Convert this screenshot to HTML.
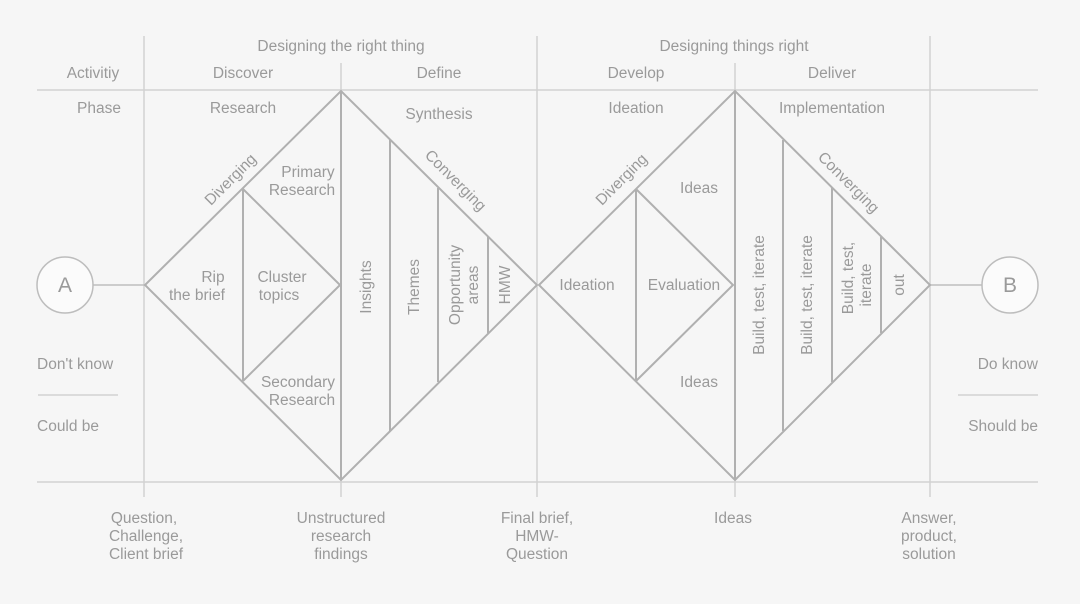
<!DOCTYPE html>
<html><head><style>
html,body{margin:0;padding:0;background:#f6f6f6;}
svg{display:block}
text{font-family:"Liberation Sans",sans-serif;font-size:15.5px;fill:#9a9a9a;}
</style></head><body>
<svg width="1080" height="604" viewBox="0 0 1080 604">
<rect width="1080" height="604" fill="#f6f6f6"/>
<g stroke="#d2d2d2" stroke-width="1.5" fill="none">
<line x1="37" y1="90" x2="1038" y2="90"/>
<line x1="37" y1="482" x2="1038" y2="482"/>
<line x1="144" y1="36" x2="144" y2="497"/>
<line x1="537" y1="36" x2="537" y2="497"/>
<line x1="930" y1="36" x2="930" y2="497"/>
<line x1="341" y1="63" x2="341" y2="497"/>
<line x1="735" y1="63" x2="735" y2="497"/>
<line x1="38" y1="395" x2="118" y2="395"/>
<line x1="958" y1="395" x2="1038" y2="395"/>
</g>
<g stroke="#bdbdbd" stroke-width="1.5" fill="none">
<circle cx="65" cy="285" r="28" fill="#fbfbfb"/>
<circle cx="1010" cy="285" r="28" fill="#fbfbfb"/>
<line x1="93" y1="285" x2="145" y2="285"/>
<line x1="930" y1="285" x2="982" y2="285"/>
</g>
<g stroke="#b0b0b0" stroke-width="2" fill="none">
<polygon points="145,285 341,91 537,285 341,480"/>
<line x1="243" y1="189" x2="243" y2="381"/>
<polyline points="243,189 340,285 243,381"/>
<line x1="341" y1="91" x2="341" y2="480"/>
<line x1="390" y1="140" x2="390" y2="431"/>
<line x1="438" y1="188" x2="438" y2="382"/>
<line x1="488" y1="237" x2="488" y2="333"/>
<polygon points="539,285 735,91 930,285 735,480"/>
<line x1="636" y1="189" x2="636" y2="381"/>
<polyline points="636,189 733,285 636,381"/>
<line x1="735" y1="91" x2="735" y2="480"/>
<line x1="783" y1="140" x2="783" y2="431"/>
<line x1="832" y1="188" x2="832" y2="382"/>
<line x1="881" y1="237" x2="881" y2="333"/>
</g>
<g text-anchor="middle">
<text x="341" y="51">Designing the right thing</text>
<text x="734" y="51">Designing things right</text>
<text x="93" y="78">Activitiy</text>
<text x="243" y="78">Discover</text>
<text x="439" y="78">Define</text>
<text x="636" y="78">Develop</text>
<text x="832" y="78">Deliver</text>
<text x="99" y="113">Phase</text>
<text x="243" y="113">Research</text>
<text x="439" y="119">Synthesis</text>
<text x="636" y="113">Ideation</text>
<text x="832" y="113">Implementation</text>
<text x="65" y="292" style="font-size:21px">A</text>
<text x="1010" y="292" style="font-size:21px">B</text>
<text x="308" y="177">Primary</text>
<text x="302" y="195">Research</text>
<text x="213" y="282">Rip</text>
<text x="197" y="300">the brief</text>
<text x="282" y="282">Cluster</text>
<text x="279" y="300">topics</text>
<text x="298" y="387">Secondary</text>
<text x="302" y="405">Research</text>
<text x="699" y="193">Ideas</text>
<text x="587" y="290">Ideation</text>
<text x="684" y="290">Evaluation</text>
<text x="699" y="387">Ideas</text>
<text x="144" y="523">Question,</text>
<text x="146" y="541">Challenge,</text>
<text x="146" y="559">Client brief</text>
<text x="341" y="523">Unstructured</text>
<text x="341" y="541">research</text>
<text x="341" y="559">findings</text>
<text x="537" y="523">Final brief,</text>
<text x="537" y="541">HMW-</text>
<text x="537" y="559">Question</text>
<text x="733" y="523">Ideas</text>
<text x="929" y="523">Answer,</text>
<text x="929" y="541">product,</text>
<text x="929" y="559">solution</text>
</g>
<text x="37" y="369">Don't know</text>
<text x="37" y="431">Could be</text>
<text x="1038" y="369" text-anchor="end">Do know</text>
<text x="1038" y="431" text-anchor="end">Should be</text>
<g text-anchor="middle">
<text transform="translate(234,183) rotate(-45)">Diverging</text>
<text transform="translate(625,183) rotate(-45)">Diverging</text>
<text transform="translate(452,184) rotate(45)">Converging</text>
<text transform="translate(845,186) rotate(45)">Converging</text>
<text transform="translate(371,287) rotate(-90)">Insights</text>
<text transform="translate(419,287) rotate(-90)">Themes</text>
<text transform="translate(460,285) rotate(-90)">Opportunity</text>
<text transform="translate(478,285) rotate(-90)">areas</text>
<text transform="translate(510,285) rotate(-90)">HMW</text>
<text transform="translate(764,295) rotate(-90)">Build, test, iterate</text>
<text transform="translate(812,295) rotate(-90)">Build, test, iterate</text>
<text transform="translate(853,278) rotate(-90)">Build, test,</text>
<text transform="translate(871,285) rotate(-90)">iterate</text>
<text transform="translate(904,285) rotate(-90)">out</text>
</g>
</svg>
</body></html>
